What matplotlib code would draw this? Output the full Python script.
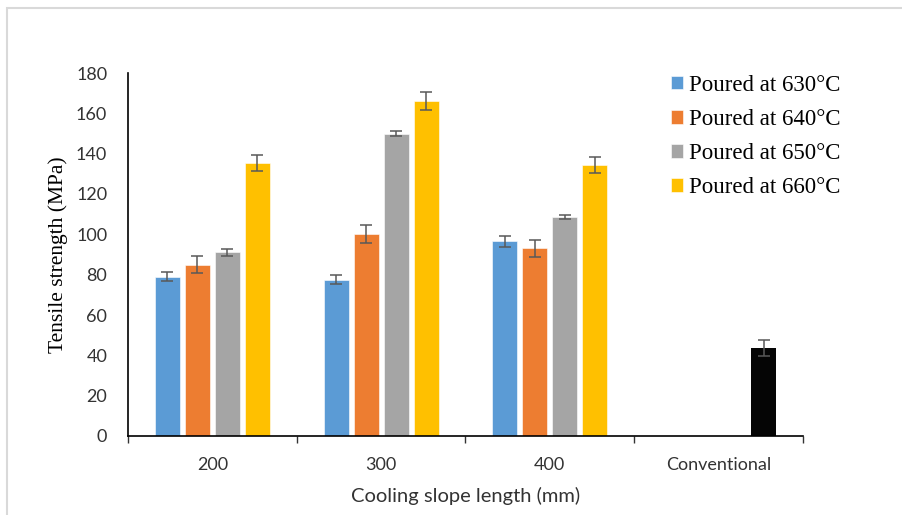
import numpy as np
import matplotlib
matplotlib.use("Agg")
import matplotlib.pyplot as plt
from matplotlib.patches import Rectangle

# ── Data ──────────────────────────────────────────────────────────────────────
CATEGORIES = ["200", "300", "400", "Conventional"]
SERIES = ["Poured at 630°C", "Poured at 640°C", "Poured at 650°C", "Poured at 660°C"]

# values for the three slope lengths (200, 300, 400 mm)
V630 = [79, 77.5, 96.5]
V640 = [85, 100, 93]
V650 = [91, 150, 108.5]
V660 = [135.5, 166, 134.5]
E630 = [2.2, 2.2, 2.7]
E640 = [4.3, 4.5, 4.4]
E650 = [1.5, 1.0, 1.0]
E660 = [4.0, 4.5, 4.0]

CONV_VALUE = 43.5
CONV_ERR = 4.0

COLORS = ["#5B9BD5", "#ED7D31", "#A5A5A5", "#FFC000"]
C_CONV = "#050505"
C_ERR = "#595959"

SERIF = "Liberation Serif"
SANS = "Lato"

# ── Figure ────────────────────────────────────────────────────────────────────
W, H = 903, 515
fig = plt.figure(figsize=(W / 100, H / 100), dpi=100)
fig.patch.set_facecolor("white")

# faint outer frame like the source screenshot
fig.patches.append(Rectangle((7 / W, -0.1), 1.2, (H - 8) / H + 0.1,
                             transform=fig.transFigure, fill=False,
                             edgecolor="#D9D9D9", lw=1.5))

ax = fig.add_axes([128 / W, (H - 436) / H, 675 / W, 363 / H])

values = [V630, V640, V650, V660]
errors = [E630, E640, E650, E660]
x = np.arange(3) + 0.5
bw = 0.148
step = 0.178
ekw = dict(ecolor=C_ERR, elinewidth=1.1, capsize=4.5, capthick=1.1)

for i, (vals, errs) in enumerate(zip(values, errors)):
    off = (i - 1.5) * step
    ax.bar(x + off, vals, width=bw, color=COLORS[i], edgecolor="white",
           linewidth=0.4, yerr=errs, error_kw=ekw, label=SERIES[i], zorder=2)

# conventional casting sits in the last slot of the fourth category
ax.bar([3.5 + 1.5 * step], [CONV_VALUE], width=bw, color=C_CONV,
       yerr=[CONV_ERR], error_kw=ekw, zorder=2)

ax.set_xlim(0, 4)
ax.set_ylim(0, 180)
ax.set_yticks(np.arange(0, 181, 20))
ax.set_xticks(np.arange(4) + 0.5)
ax.set_xticklabels(CATEGORIES, fontfamily=SANS, fontsize=13, color="#333333")
ax.set_xticks(np.arange(0, 5), minor=True)
ax.tick_params(axis="x", which="major", length=0, pad=15)
ax.tick_params(axis="x", which="minor", length=5, width=1, direction="out", color="#333333")
ax.tick_params(axis="y", length=0, pad=15, labelsize=13, labelcolor="#333333")
for lbl in ax.get_yticklabels():
    lbl.set_fontfamily(SANS)

for side in ["top", "right"]:
    ax.spines[side].set_visible(False)
ax.spines["left"].set_color("black")
ax.spines["bottom"].set_color("black")
ax.spines["left"].set_linewidth(1.2)
ax.spines["bottom"].set_linewidth(1.2)

ax.set_ylabel("Tensile strength (MPa)", fontfamily=SERIF, fontsize=15.5, labelpad=6)
ax.set_xlabel("Cooling slope length (mm)", fontfamily=SANS, fontsize=14.5,
              color="#333333", labelpad=10)

fig.legend(loc="upper left", bbox_to_anchor=(650 / W, 1 - 54 / H), frameon=False,
           prop={"family": SERIF, "size": 16.5}, handlelength=0.55, handleheight=0.55,
           handletextpad=0.25, labelspacing=0.58)

fig.savefig("out.png", dpi=100, facecolor="white")
